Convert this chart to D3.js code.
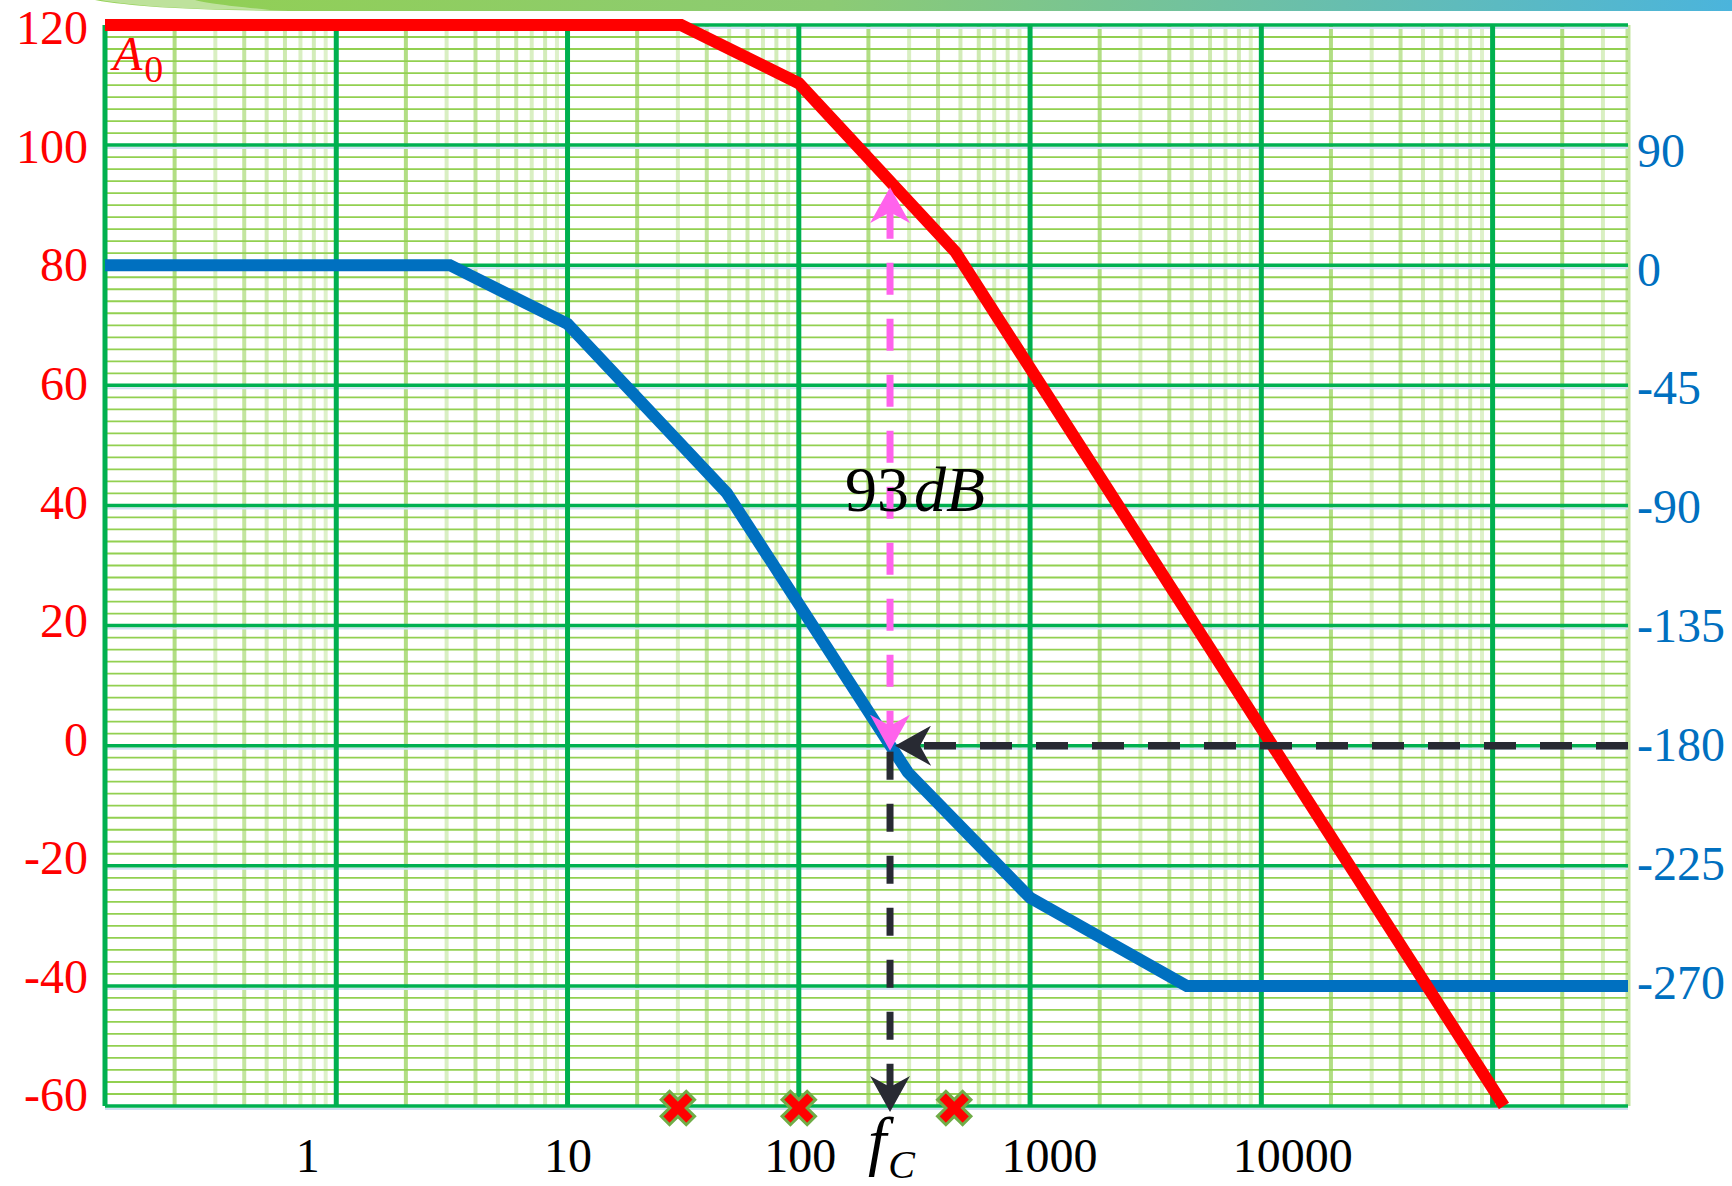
<!DOCTYPE html>
<html>
<head>
<meta charset="utf-8">
<script src="https://cdn.jsdelivr.net/npm/d3@7"></script>
<style>
  body { margin: 0; background: #fff; }
</style>
</head>
<body>
<svg id="chart"></svg>
<script>
// open loop bode plot: gain (red, left axis) and phase (blue, right axis)
const freqTicks  = [1, 10, 100, 1000, 10000];
const freqLabels = ["1", "10", "100", "1000", "10000"];
const gainTicks  = [120, 100, 80, 60, 40, 20, 0, -20, -40, -60];
const phaseTicks = [90, 0, -45, -90, -135, -180, -225, -270];

const gainFreq = [0.1, 31, 100, 476, 112000];
const gainDb   = [120, 120, 110.3, 82.2, -60];

const phaseFreq = [0.1, 3.1, 10, 48.9, 296, 1000, 4760, 385000];
const phaseDeg  = [0, 0, -22, -85.4, -190, -237, -270, -270];

const poles   = [30, 100, 470];
const fc      = 248;   // where phase hits -180
const fcGain  = 93;    // gain at fc
const fcPhase = -180;

const W = 1732, H = 1186;
const m = { left: 105, right: 1628, top: 25, bottom: 1106 };

const RED = "#ff0000", BLUE = "#0070c0", DARK = "#282a33", PINK = "#ff62ec";
const GREEN = "#00b050", LIGHT = "#92d050";
const serif = "'Liberation Serif', 'DejaVu Serif', serif";

const svg = d3.select("#chart").attr("width", W).attr("height", H);
svg.append("rect").attr("width", W).attr("height", H).attr("fill", "#fff");

const x = d3.scaleLog().domain([0.1, 385000]).range([m.left, m.right]);
const yG = d3.scaleLinear().domain([-60, 120]).range([m.bottom, m.top]);
// right axis is labelled by hand: 90 sits on the 100 dB line, 45 deg per 20 dB below 0
const yP = d3.scaleLinear()
    .domain([-315, 0, 90, 180])
    .range([yG(-60), yG(80), yG(100), yG(120)]);

// the tick labels in the original sit a little tighter than the grid rows
const yGLabel = d3.scaleLinear().domain([-60, 120]).range([m.bottom - 12, m.top + 2]);
const yPLabel = d3.scaleLinear().domain([-270, 0, 90]).range([yP(-270) - 4, yP(0) + 3, yP(90) + 5]);

// header strip
const defs = svg.append("defs");
const grad = defs.append("linearGradient").attr("id", "strip");
grad.append("stop").attr("offset", "0%").attr("stop-color", "#92d050");
grad.append("stop").attr("offset", "45%").attr("stop-color", "#8ccb74");
grad.append("stop").attr("offset", "100%").attr("stop-color", "#4bb4dc");
svg.append("path")
    .attr("d", "M95,0 C140,8 210,11 330,11 L1732,11 L1732,0 Z")
    .attr("fill", "url(#strip)");
svg.append("path")
    .attr("d", "M100,0 C140,7 200,10 270,10 C230,6 205,3 195,0 Z")
    .attr("fill", "#d2eabb").attr("opacity", 0.7);

// grid
const vLines = [];
for (let e = -1; e <= 5; e++) {
    for (let k = 1; k <= 9; k++) {
        const v = +(k * Math.pow(10, e)).toPrecision(3);
        if (v <= 385000) vLines.push({ v, k });
    }
}
const minorAlpha = { 2: 0.7, 3: 0.35, 4: 0.55, 5: 0.4, 6: 0.45, 7: 0.35, 8: 0.4, 9: 0.3 };
const hLines = d3.range(-60, 121, 2);

const grid = svg.append("g");
grid.selectAll(".vminor")
    .data(vLines.filter(d => d.k !== 1))
    .join("line")
    .attr("x1", d => x(d.v)).attr("x2", d => x(d.v))
    .attr("y1", m.top).attr("y2", m.bottom)
    .attr("stroke", LIGHT).attr("stroke-width", 4)
    .attr("stroke-opacity", d => minorAlpha[d.k]);
grid.append("line")
    .attr("x1", m.right).attr("x2", m.right).attr("y1", m.top).attr("y2", m.bottom)
    .attr("stroke", LIGHT).attr("stroke-width", 5).attr("stroke-opacity", 0.55);
grid.selectAll(".hminor")
    .data(hLines.filter(d => d % 20 !== 0))
    .join("line")
    .attr("x1", m.left).attr("x2", m.right)
    .attr("y1", d => yG(d)).attr("y2", d => yG(d))
    .attr("stroke", LIGHT).attr("stroke-width", 1.8);
// faint blue shadow under major rows
grid.selectAll(".hshadow")
    .data(hLines.filter(d => d % 20 === 0))
    .join("line")
    .attr("x1", m.left).attr("x2", m.right)
    .attr("y1", d => yG(d) + 3).attr("y2", d => yG(d) + 3)
    .attr("stroke", "#cfe0f1").attr("stroke-width", 2);
grid.selectAll(".hmajor")
    .data(hLines.filter(d => d % 20 === 0))
    .join("line")
    .attr("x1", m.left).attr("x2", m.right)
    .attr("y1", d => yG(d)).attr("y2", d => yG(d))
    .attr("stroke", GREEN).attr("stroke-width", 3.5);
grid.selectAll(".vmajor")
    .data(vLines.filter(d => d.k === 1))
    .join("line")
    .attr("x1", d => x(d.v)).attr("x2", d => x(d.v))
    .attr("y1", m.top).attr("y2", m.bottom)
    .attr("stroke", GREEN).attr("stroke-width", 5);

// axes
const numFmt = d => String(d);
const txt = sel => sel.style("font-family", serif).style("font-size", "48px");

svg.append("g")
    .attr("transform", `translate(${m.left},0)`)
    .call(d3.axisLeft(yGLabel).tickValues(gainTicks).tickFormat(numFmt).tickSize(0).tickPadding(17))
    .call(g => g.select(".domain").remove())
    .selectAll("text").call(txt).attr("fill", RED).attr("dy", "0.35em");

svg.append("g")
    .attr("transform", `translate(${m.right},0)`)
    .call(d3.axisRight(yPLabel).tickValues(phaseTicks).tickFormat(numFmt).tickSize(0).tickPadding(9))
    .call(g => g.select(".domain").remove())
    .selectAll("text").call(txt).attr("fill", BLUE).attr("dy", "0.35em");

const labelNudge = [-29, 0, 1, 19, 31];
svg.append("g")
    .attr("transform", `translate(0,${m.bottom})`)
    .call(d3.axisBottom(x).tickValues(freqTicks).tickFormat((d, i) => freqLabels[i]).tickSize(0).tickPadding(32))
    .call(g => g.select(".domain").remove())
    .selectAll("text").call(txt).attr("fill", "#000").attr("dx", (d, i) => labelNudge[i]);

// curves
const line = d3.line().x(d => x(d[0]));
svg.append("path")
    .datum(phaseFreq.map((f, i) => [f, phaseDeg[i]]))
    .attr("d", line.y(d => yP(d[1])))
    .attr("fill", "none").attr("stroke", BLUE).attr("stroke-width", 12);
svg.append("path")
    .datum(gainFreq.map((f, i) => [f, gainDb[i]]))
    .attr("d", line.y(d => yG(d[1])))
    .attr("fill", "none").attr("stroke", RED).attr("stroke-width", 12);

// arrow heads
function head(id, color) {
    defs.append("marker")
        .attr("id", id)
        .attr("viewBox", "0 0 36 40")
        .attr("markerUnits", "userSpaceOnUse")
        .attr("markerWidth", 36).attr("markerHeight", 40)
        .attr("refX", 28).attr("refY", 20)
        .attr("orient", "auto-start-reverse")
        .append("path")
        .attr("d", "M36,20 L0,0 L11,20 L0,40 Z")
        .attr("fill", color);
}
head("hdark", DARK);
head("hpink", PINK);

const xc = x(fc);
// phase -180 -> fc
svg.append("line")
    .attr("x1", m.right).attr("x2", xc + 13)
    .attr("y1", yP(fcPhase)).attr("y2", yP(fcPhase))
    .attr("stroke", DARK).attr("stroke-width", 7.5)
    .attr("stroke-dasharray", "32 24")
    .attr("marker-end", "url(#hdark)");
// fc down to the frequency axis
svg.append("line")
    .attr("x1", xc).attr("x2", xc)
    .attr("y1", yG(0) + 6).attr("y2", m.bottom - 2)
    .attr("stroke", DARK).attr("stroke-width", 7)
    .attr("stroke-dasharray", "28 24")
    .attr("marker-end", "url(#hdark)");
// gain margin
svg.append("line")
    .attr("x1", xc).attr("x2", xc)
    .attr("y1", yG(0) - 3).attr("y2", yG(fcGain) + 8)
    .attr("stroke", PINK).attr("stroke-width", 7)
    .attr("stroke-dasharray", "32 24")
    .attr("marker-start", "url(#hpink)")
    .attr("marker-end", "url(#hpink)");

// pole marks
svg.selectAll(".pole")
    .data(poles)
    .join("path")
    .attr("d", d3.symbol(d3.symbolCross, 700))
    .attr("transform", d => `translate(${x(d)},${m.bottom + 2}) rotate(45)`)
    .attr("fill", RED).attr("stroke", "#70ad47").attr("stroke-width", 3);

// labels
const a0 = svg.append("text")
    .attr("x", m.left + 8).attr("y", yG(112.5))
    .attr("fill", RED).style("font-family", serif);
a0.append("tspan").text("A").style("font-size", "48px").style("font-style", "italic");
a0.append("tspan").text("0").attr("dx", 2).attr("dy", 12).style("font-size", "38px");

const gm = svg.append("text")
    .attr("x", xc - 45).attr("y", yG(39))
    .attr("fill", "#000").style("font-family", serif).style("font-size", "64px");
gm.append("tspan").text(fcGain);
gm.append("tspan").text("dB").attr("dx", 5).style("font-style", "italic");

const fl = svg.append("text")
    .attr("x", xc - 22).attr("y", m.bottom + 57)
    .attr("fill", "#000").style("font-family", serif).style("font-style", "italic");
fl.append("tspan").text("f").style("font-size", "66px");
fl.append("tspan").text("C").attr("dx", 2).attr("dy", 15).style("font-size", "40px");
</script>
</body>
</html>
